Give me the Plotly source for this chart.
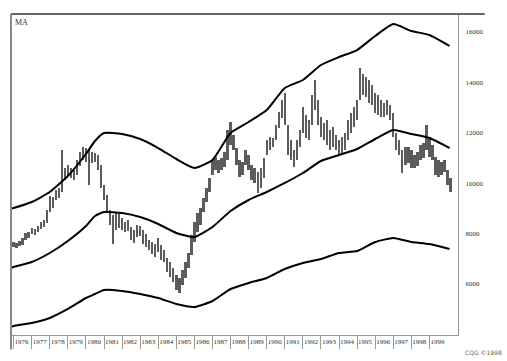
import plotly.graph_objects as go

# ---- data ----
tick_years = list(range(1976, 2000))
tick_labels = [str(y) for y in tick_years]

line_x = [1975.86, 1976, 1977, 1978, 1979, 1980, 1980.5, 1981, 1982, 1983, 1984, 1985,
          1986, 1987, 1988, 1989, 1990, 1991, 1992, 1993, 1994, 1995, 1996,
          1997, 1998, 1999, 2000.11]
ma_mid = [6635, 6675, 6873, 7230, 7706, 8301, 8698, 8857, 8817, 8659, 8381, 8024,
          7865, 8262, 8896, 9333, 9650, 10008, 10405, 10881, 11119, 11357, 11754,
          12111, 11952, 11793, 11397]
ma_upper = [8990, 9016, 9254, 9651, 10285, 11158, 11674, 11992, 11952, 11754, 11396, 10960,
            10603, 10920, 11992, 12428, 12904, 13780, 14095, 14690, 15007, 15285, 15841,
            16317, 16039, 15880, 15444]
ma_lower = [4294, 4333, 4452, 4651, 5008, 5444, 5603, 5762, 5722, 5603, 5444, 5206,
            5087, 5325, 5802, 6040, 6238, 6595, 6833, 6992, 7230, 7309, 7667,
            7825, 7667, 7587, 7389]

price_high = [7670, 7630, 7710, 7830, 8020, 8060, 8220, 8180, 8300, 8460,
              8540, 8940, 9490, 9450, 9730, 9810, 11320, 10600, 10720, 10600,
              10520, 10920, 11240, 11440, 11400, 11320, 11240, 11200, 11120, 10720,
              9930, 9530, 8940, 8740, 8820, 8780, 8620, 8460, 8540, 8260,
              8140, 8340, 8300, 8140, 7980, 7750, 7670, 7590, 7830, 7550,
              7350, 7030, 6870, 6630, 6360, 6240, 6560, 6870, 7230, 7940,
              8460, 8820, 9020, 9410, 9810, 10210, 10920, 11040, 10920, 11000,
              11240, 12110, 12430, 11910, 11400, 10920, 10840, 11320, 11120, 10720,
              10600, 10440, 10600, 11000, 11710, 11830, 11790, 12310, 12830, 13300,
              13580, 12310, 11710, 11320, 11710, 12110, 13020, 12710, 12510, 13500,
              14100, 13300, 12630, 12390, 12510, 12110, 12230, 11910, 11710, 11830,
              11990, 12510, 12790, 13020, 13300, 14570, 14330, 14210, 14100, 13900,
              13580, 13500, 13300, 13180, 13300, 13100, 12790, 11990, 11710, 11320,
              11440, 11440, 11320, 11120, 11240, 11520, 11600, 12310, 11830, 11520,
              11040, 10920, 10840, 10920, 10520, 10210]
price_low = [7470, 7430, 7510, 7550, 7750, 7830, 7980, 7940, 8060, 8180,
             8260, 8420, 8860, 9020, 9330, 9410, 9650, 10130, 10290, 10210,
             10130, 10330, 10680, 10920, 10840, 9930, 10800, 10840, 10520, 9810,
             9330, 8860, 8340, 7590, 8140, 8220, 8140, 8060, 8100, 7750,
             7630, 7870, 7900, 7590, 7470, 7350, 7190, 7070, 7270, 6950,
             6870, 6480, 6280, 6080, 5760, 5640, 5960, 6240, 6630, 7150,
             7670, 8060, 8340, 8860, 9250, 9650, 10330, 10520, 10400, 10520,
             10640, 10920, 11520, 11320, 10720, 10250, 10330, 10720, 10520, 10130,
             10010, 9610, 9810, 10210, 11120, 11320, 11440, 11710, 12190, 12590,
             12310, 11120, 10920, 10640, 10920, 11440, 11990, 11790, 11710, 12310,
             12900, 12310, 11830, 11710, 11520, 11320, 11440, 11320, 11120, 11200,
             11320, 11710, 11990, 12230, 12510, 13300, 13500, 13420, 13180, 13100,
             12790, 12710, 12630, 12630, 12710, 12510, 11830, 11320, 11120, 10400,
             10720, 10800, 10600, 10600, 10680, 10920, 11000, 11320, 11040, 10920,
             10330, 10250, 10330, 10440, 9930, 9650]
bar_x = [1976 + i / 6 for i in range(len(price_high))]
bar_len = [h - l for h, l in zip(price_high, price_low)]

y_ticks = [6000, 8000, 10000, 12000, 14000, 16000]

# ---- figure ----
fig = go.Figure()
fig.add_trace(go.Bar(x=bar_x, y=bar_len, base=price_low, width=0.13,
                     marker=dict(color="#5c5c5c", line=dict(width=0)),
                     showlegend=False, hoverinfo="skip"))
for series in (ma_upper, ma_mid, ma_lower):
    fig.add_trace(go.Scatter(x=line_x, y=series, mode="lines",
                             line=dict(color="black", width=2, shape="spline", smoothing=0.5),
                             showlegend=False, hoverinfo="skip"))

font_serif = "Liberation Serif, Times New Roman, serif"

fig.update_layout(
    width=507, height=361,
    margin=dict(l=11, r=49, t=14, b=26, autoexpand=False),
    paper_bgcolor="white", plot_bgcolor="white",
    bargap=0,
    font=dict(family=font_serif, size=7, color="#333"),
    xaxis=dict(range=[1975.856, 2000.58], tickmode="array", tickvals=tick_years,
               ticktext=tick_labels, ticks="outside", ticklen=13, tickwidth=1,
               tickcolor="#999", showgrid=False, zeroline=False, automargin=False,
               showline=True, linecolor="#999", linewidth=1, tickangle=0,
               ticklabelposition="outside right", ticklabelstandoff=0,
               tickfont=dict(family=font_serif, size=7, color="#333")),
    yaxis=dict(range=[3976, 16714], side="right", tickmode="array", tickvals=y_ticks,
               ticktext=[str(v) for v in y_ticks], ticks="outside", ticklen=5,
               tickcolor="rgba(0,0,0,0)", showgrid=False, zeroline=False, automargin=False,
               showline=True, linecolor="#999", linewidth=1,
               tickfont=dict(family=font_serif, size=7, color="#333")),
    shapes=[
        dict(type="line", xref="paper", yref="paper", x0=0, x1=1.06, y0=1, y1=1,
             line=dict(color="#333", width=1.5)),
        dict(type="line", xref="paper", yref="paper", x0=0, x1=0, y0=-0.045, y1=1,
             line=dict(color="#888", width=2)),
    ],
    annotations=[
        dict(text="MA", xref="paper", yref="paper", x=0.004, y=0.995,
             xanchor="left", yanchor="top", showarrow=False,
             font=dict(family=font_serif, size=8, color="#333")),
        dict(text="CQG ©1998", xref="paper", yref="paper", x=1.056, y=-0.053,
             xanchor="center", yanchor="middle", showarrow=False,
             font=dict(family="DejaVu Sans", size=6, color="#666")),
    ],
)

fig.write_html("out.html", config={"displayModeBar": False},
               post_script="document.body.style.margin='0';")
